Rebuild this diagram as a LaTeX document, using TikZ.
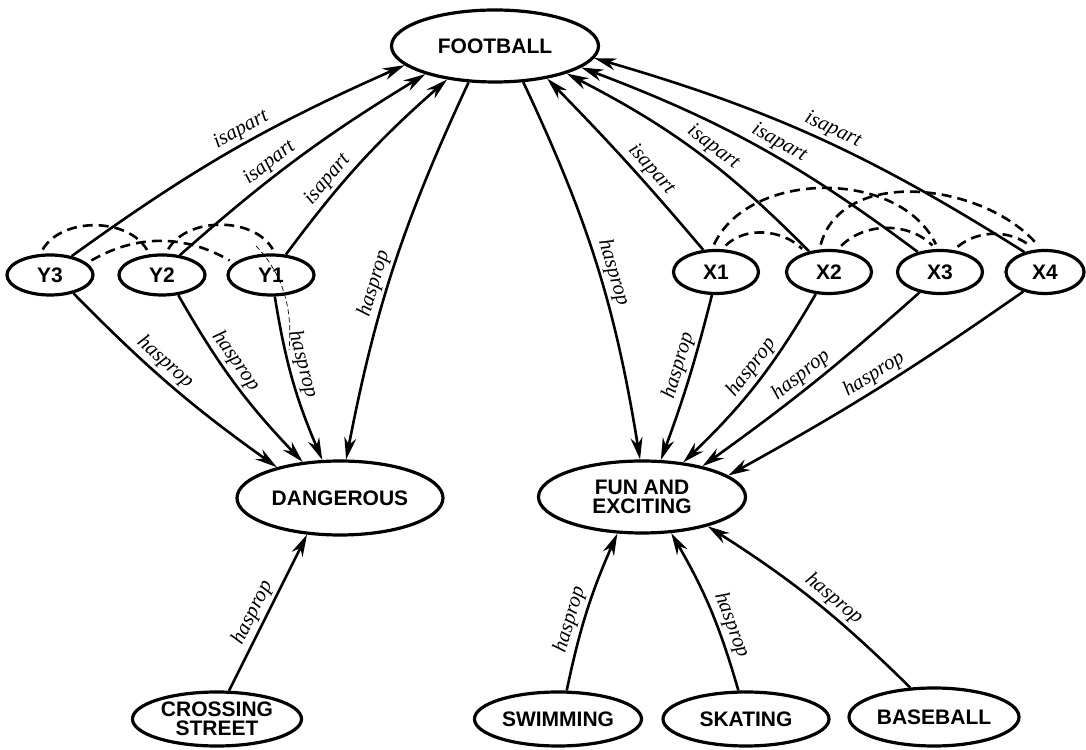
\documentclass[tikz,border=0pt]{standalone}
\usepackage{fontspec}
\setmainfont{Liberation Serif}
\setsansfont{Liberation Sans}
\usetikzlibrary{arrows.meta,shapes.geometric}
\begin{document}
\begin{tikzpicture}[x=1pt,y=1pt,
  ell/.style={ellipse, draw, line width=3.2pt, inner sep=0pt, align=center,
    font=\sffamily\bfseries\fontsize{21}{19}\selectfont},
  rel/.style={line width=2.6pt, -{Stealth[length=22pt,width=12pt,inset=7pt]}},
  lab/.style={font=\itshape\fontsize{21}{21}\selectfont, sloped, above, inner sep=3pt},
  dasharc/.style={line width=2.6pt, dash pattern=on 10pt off 6pt, shorten <=5pt, shorten >=5pt},
  stray/.style={line width=0.7pt, dash pattern=on 5pt off 3pt}
]
\useasboundingbox (0,0) rectangle (1086,749);

% nodes
\node[ell, minimum width=207pt, minimum height=72pt] (FB) at (495,703) {FOOTBALL};
\node[ell, minimum width=86pt, minimum height=40pt] (Y3) at (50,474) {Y3};
\node[ell, minimum width=86pt, minimum height=40pt] (Y2) at (162,474) {Y2};
\node[ell, minimum width=86pt, minimum height=40pt] (Y1) at (271,474) {Y1};
\node[ell, minimum width=85pt, minimum height=43pt] (X1) at (716,477) {X1};
\node[ell, minimum width=85pt, minimum height=43pt] (X2) at (829,477) {X2};
\node[ell, minimum width=85pt, minimum height=43pt] (X3) at (940,477) {X3};
\node[ell, minimum width=78pt, minimum height=43pt] (X4) at (1045,477) {X4};
\node[ell, minimum width=206pt, minimum height=74pt] (DG) at (340,251) {DANGEROUS};
\node[ell, minimum width=207pt, minimum height=72pt] (FE) at (642,252) {FUN AND\\EXCITING};
\node[ell, minimum width=169pt, minimum height=54pt] (CS) at (217,30) {CROSSING\\STREET};
\node[ell, minimum width=167pt, minimum height=54pt] (SW) at (558,30) {SWIMMING};
\node[ell, minimum width=166pt, minimum height=54pt] (SK) at (746,30) {SKATING};
\node[ell, minimum width=170pt, minimum height=58pt] (BB) at (934,32) {BASEBALL};

% isapart (Y side)
\draw[rel] (Y3.41) to[bend left=6] node[lab,pos=.55]{isapart} (FB.192);
\draw[rel] (Y2.48) to[bend left=5] node[lab,pos=.41]{isapart} (FB.202);
\draw[rel] (Y1.54) to[bend left=6] node[lab,pos=.34]{isapart} (FB.215);

% isapart (X side)
\draw[rel] (X1.120) to[bend right=2] node[lab,pos=.40]{isapart} (FB.328);
\draw[rel] (X2.134) to[bend right=9] node[lab,pos=.46]{isapart} (FB.339);
\draw[rel] (X3.138) to[bend right=8] node[lab,pos=.45]{isapart} (FB.346);
\draw[rel] (X4.136) to[bend right=8] node[lab,pos=.475]{isapart} (FB.353);

% hasprop to DANGEROUS
\draw[rel] (FB.234) to[bend right=7] node[lab,pos=.56]{hasprop} (DG.81);
\draw[rel] (Y3.-38) to[bend right=5] node[lab,pos=.42]{hasprop} (DG.154);
\draw[rel] (Y2.-51) to[bend right=7] node[lab,pos=.41]{hasprop} (DG.136);
\draw[rel] (Y1.-80) to[bend right=7] node[lab,pos=.42]{hasprop} (DG.115);
\draw[rel] (CS.67) to node[lab,pos=.46]{hasprop} (DG.228);

% hasprop to FUN AND EXCITING
\draw[rel] (FB.308) to[bend left=8] node[lab,pos=.53]{hasprop} (FE.93);
\draw[rel] (X1.260) to[bend left=3] node[lab,pos=.44]{hasprop} (FE.63);
\draw[rel] (X2.239) to[bend left=8] node[lab,pos=.45]{hasprop} (FE.40);
\draw[rel] (X3.225) to[bend left=3] node[lab,pos=.52]{hasprop} (FE.27);
\draw[rel] (X4.222) to[bend left=3] node[lab,pos=.49]{hasprop} (FE.14);
\draw[rel] (SW.73) to[bend left=6] node[lab,pos=.41]{hasprop} (FE.236);
\draw[rel] (SK.105) to[bend right=7] node[lab,pos=.36]{hasprop} (FE.309);
\draw[rel] (BB.129) to[bend right=6] node[lab,pos=.44]{hasprop} (FE.336);

% dashed arcs (Y side)
\draw[dasharc] (Y3.115) to[out=60,in=120] (Y2.121);
\draw[dasharc] (Y2.80) to[out=60,in=120] (Y1.79);
\draw[dasharc] (Y3.18) to[out=30,in=150] (Y1.162);

% dashed arcs (X side)
\draw[dasharc] (X1.100) to[out=65,in=115] (X3.95);
\draw[dasharc] (X1.75) to[out=45,in=135] (X2.140);
\draw[dasharc] (X2.113) to[out=75,in=130] (X4.100);
\draw[dasharc] (X2.69) to[out=45,in=135] (X3.100);
\draw[dasharc] (X3.58) to[out=40,in=140] (X4.115);

% stray thin dashed mark through Y1
\draw[stray] (256,503) .. controls (283,475) and (293,440) .. (289,399);
\end{tikzpicture}
\end{document}
